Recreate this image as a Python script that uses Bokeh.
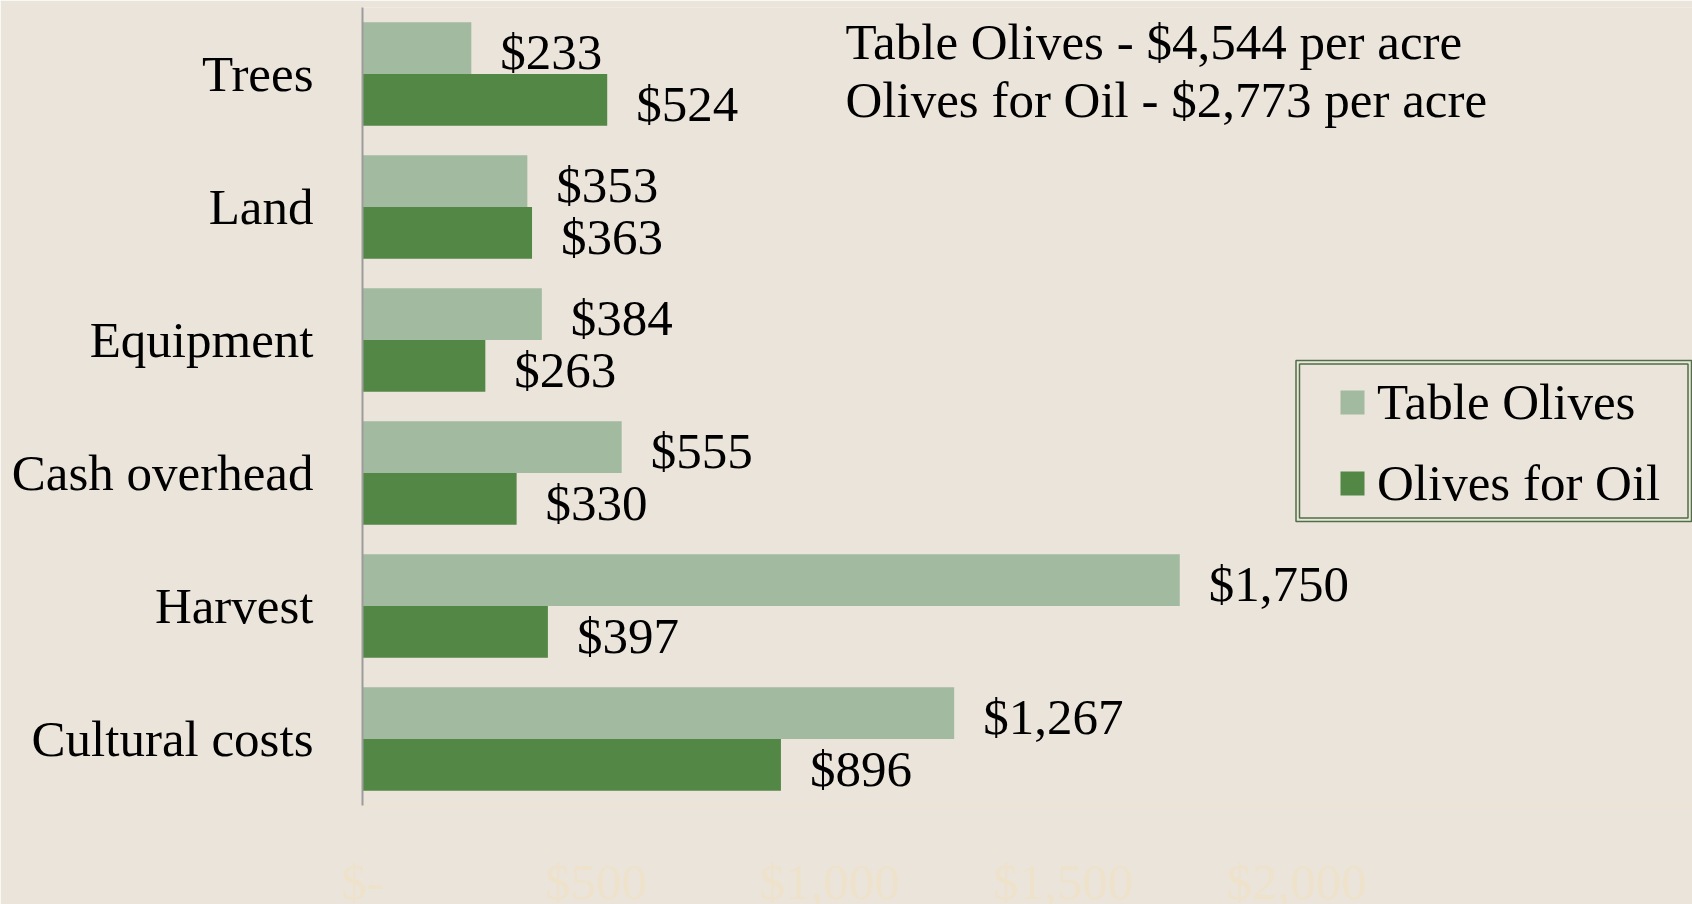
from bokeh.plotting import figure
from bokeh.models import (FactorRange, Range1d, ColumnDataSource, Legend, LegendItem,
                          Label, BoxAnnotation, FixedTicker)
from bokeh.transform import dodge
from bokeh.embed import file_html
from bokeh.resources import INLINE
from bokeh.core.properties import value

# ---- data ----
categories = ["Trees", "Land", "Equipment", "Cash overhead", "Harvest", "Cultural costs"]
table_olives = [233, 353, 384, 555, 1750, 1267]
olives_for_oil = [524, 363, 263, 330, 397, 896]
series_names = ["Table Olives", "Olives for Oil"]
totals = [4544, 2773]
x_ticks = [0, 500, 1000, 1500, 2000]
x_tick_labels = ["$-", "$500", "$1,000", "$1,500", "$2,000"]

# ---- style / layout ----
BG = "#EBE4DA"
LIGHT = "#A2BA9F"
DARK = "#538746"
BORDER = "#4F6F47"
FONT = "Liberation Serif"
FS = "51px"
FRAME_LEFT = 362
FRAME_TOP = 7
FRAME_W = 1330          # frame reaches the right edge of the window
FRAME_H = 798
PX_PER_2000 = 934       # pixel length of the 0..2000 axis part


def money(v):
    return "${:,}".format(v)


src = ColumnDataSource(dict(
    cat=categories,
    t=table_olives,
    o=olives_for_oil,
    tl=[money(v) for v in table_olives],
    ol=[money(v) for v in olives_for_oil],
))

p = figure(
    y_range=FactorRange(factors=categories[::-1]),
    x_range=Range1d(0, 2000 * FRAME_W / PX_PER_2000),
    frame_width=FRAME_W, frame_height=FRAME_H,
    min_border_left=FRAME_LEFT, min_border_right=0,
    min_border_top=FRAME_TOP, min_border_bottom=0,
    output_backend="svg", toolbar_location=None,
    background_fill_color=BG, border_fill_color=BG,
    outline_line_color=None,
)

r1 = p.hbar(y=dodge("cat", 0.195, range=p.y_range), right="t", left=0, height=0.39,
            source=src, fill_color=LIGHT, line_color=None)
r2 = p.hbar(y=dodge("cat", -0.195, range=p.y_range), right="o", left=0, height=0.39,
            source=src, fill_color=DARK, line_color=None)

for xcol, off, tcol in (("t", 0.195, "tl"), ("o", -0.195, "ol")):
    p.text(x=xcol, y=dodge("cat", off, range=p.y_range), text=tcol, source=src,
           x_offset=29, y_offset=4, text_baseline="middle", text_align="left",
           text_font=value(FONT), text_font_size=FS, text_color="#000000")

p.xgrid.visible = False
p.ygrid.visible = False

yax = p.yaxis[0]
yax.major_label_text_font = FONT
yax.major_label_text_font_size = FS
yax.major_label_text_color = "#000000"
yax.major_label_standoff = 43
yax.major_tick_line_color = None
yax.minor_tick_line_color = None
yax.axis_line_color = "#9C9C9C"
yax.axis_line_width = 2

xax = p.xaxis[0]
xax.ticker = FixedTicker(ticks=x_ticks)
xax.major_label_overrides = {t: l for t, l in zip(x_ticks, x_tick_labels)}
xax.major_label_text_font = FONT
xax.major_label_text_font_size = FS
xax.major_label_text_color = "#EFE2CB"
xax.major_label_standoff = 42
xax.major_tick_line_color = None
xax.minor_tick_line_color = None
xax.axis_line_color = "#EEE3CF"
xax.axis_line_width = 2

legend = Legend(
    items=[LegendItem(label=series_names[0], renderers=[r1]),
           LegendItem(label=series_names[1], renderers=[r2])],
    location=(975, 293), orientation="vertical",
    border_line_color=None, background_fill_alpha=0,
    label_text_font=FONT, label_text_font_size=FS, label_text_color="#000000",
    glyph_width=30, glyph_height=30, label_standoff=10, label_height=56,
    spacing=23, padding=10, margin=0,
)
p.add_layout(legend, "center")

# double border of the legend
for inset in (0, 3.5):
    p.add_layout(BoxAnnotation(left=933.5 + inset, right=1329 - inset,
                               top=445 - inset, bottom=284 + inset,
                               left_units="screen", right_units="screen",
                               top_units="screen", bottom_units="screen",
                               fill_alpha=0, line_color=BORDER, line_alpha=1,
                               line_width=1.5))

# totals text
for i, (name, tot) in enumerate(zip(series_names, totals)):
    p.add_layout(Label(x=483, y=764 - 58 * i, x_units="screen", y_units="screen",
                       text="{} - {} per acre".format(name, money(tot)),
                       text_baseline="middle", text_align="left",
                       text_font=FONT, text_font_size=FS, text_color="#000000"))

html = file_html(p, INLINE)
html = html.replace("<body>", '<body style="margin:0;overflow:hidden;background:%s">' % BG, 1)
open("out.html", "w").write(html)
